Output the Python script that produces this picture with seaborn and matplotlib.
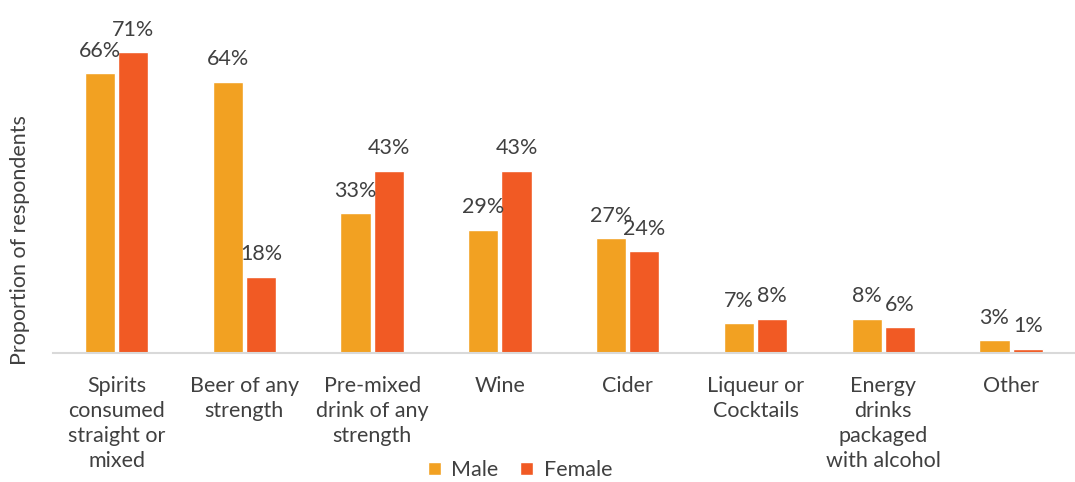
import numpy as np
import pandas as pd
import matplotlib
matplotlib.use("Agg")
import matplotlib.pyplot as plt
import seaborn as sns

# Datos
categorias = [
    "Spirits\nconsumed\nstraight or\nmixed",
    "Beer of any\nstrength",
    "Pre-mixed\ndrink of any\nstrength",
    "Wine",
    "Cider",
    "Liqueur or\nCocktails",
    "Energy\ndrinks\npackaged\nwith alcohol",
    "Other",
]
male = [66, 64, 33, 29, 27, 7, 8, 3]
female = [71, 18, 43, 43, 24, 8, 6, 1]
series = ["Male", "Female"]
colores = ["#F2A122", "#F15A24"]

df = pd.DataFrame({
    "categoria": categorias * 2,
    "sexo": ["Male"] * len(categorias) + ["Female"] * len(categorias),
    "valor": male + female,
})

sns.set_theme(style="white")
plt.rcParams["font.family"] = ["Lato", "DejaVu Sans"]
texto = "#404040"
fs = 15.5

fig, ax = plt.subplots(figsize=(10.75, 4.82), dpi=100)
fig.subplots_adjust(left=0.049, right=1.0, bottom=0.268, top=0.971)

sns.barplot(
    data=df, x="categoria", y="valor", hue="sexo",
    hue_order=series, palette=colores, order=categorias,
    width=0.52, gap=0.09, ax=ax, legend=True, saturation=1,
)

for cont in ax.containers:
    ax.bar_label(cont, labels=[f"{v:.0f}%" for v in cont.datavalues],
                 padding=9, fontsize=fs, color=texto)

ax.set_ylim(0, 80)
ax.set_xlim(-0.5, len(categorias) - 0.5)
ax.set_yticks([])
ax.set_xlabel("")
ax.set_ylabel("Proportion of respondents", fontsize=fs, color=texto)
ax.yaxis.set_label_coords(-0.022, 0.333)
ax.tick_params(axis="x", length=0, pad=17, labelsize=fs, labelcolor=texto)
for lbl in ax.get_xticklabels():
    lbl.set_linespacing(1.3)
    lbl.set_verticalalignment("top")

for lado in ["top", "right", "left"]:
    ax.spines[lado].set_visible(False)
ax.spines["bottom"].set_color("#D9D9D9")
ax.spines["bottom"].set_linewidth(1.5)

handles, labels = ax.get_legend_handles_labels()
ax.get_legend().remove()
fig.legend(handles, labels, loc="center", bbox_to_anchor=(520 / 1075, 1 - 470 / 482),
           ncol=2, frameon=False, fontsize=fs, labelcolor=texto,
           handlelength=0.6, handleheight=0.6, handletextpad=0.5, columnspacing=1.0)

plt.savefig("out.png", dpi=100)
plt.close()
